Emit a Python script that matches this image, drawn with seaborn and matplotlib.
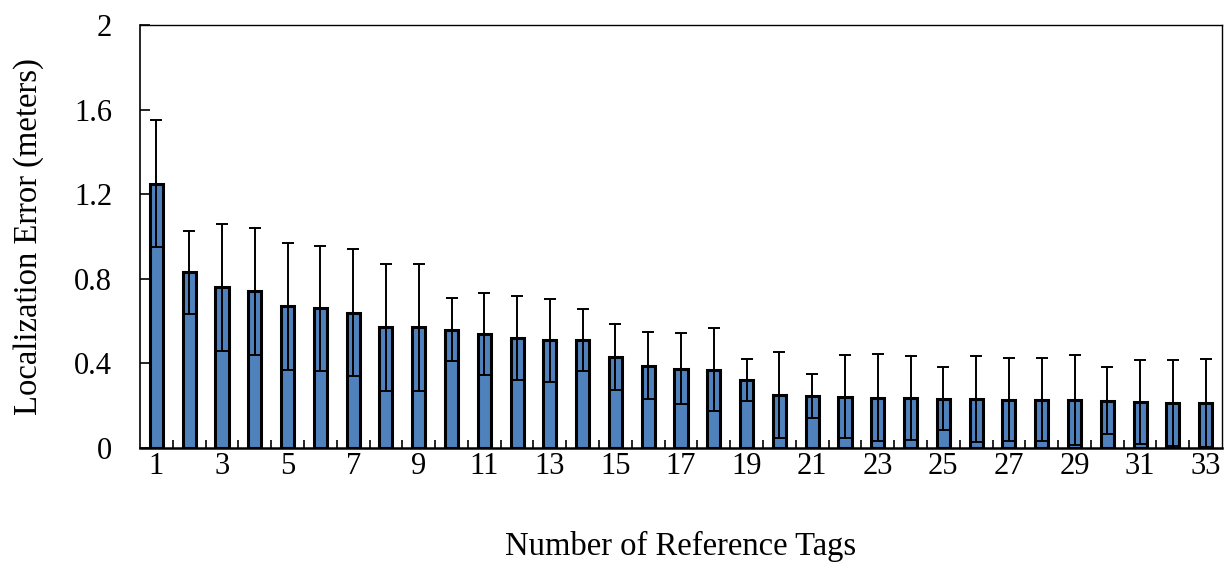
import matplotlib
matplotlib.use("Agg")
import matplotlib.pyplot as plt
import seaborn as sns
import pandas as pd
import numpy as np

tags = list(range(1, 34))
mean_error = [1.25, 0.83, 0.76, 0.74, 0.67, 0.66, 0.64, 0.57, 0.57, 0.56, 0.54,
              0.52, 0.51, 0.51, 0.43, 0.39, 0.375, 0.37, 0.32, 0.25, 0.245, 0.243,
              0.238, 0.236, 0.233, 0.232, 0.229, 0.229, 0.229, 0.224, 0.217, 0.214, 0.213]
err_half = [0.30, 0.195, 0.30, 0.30, 0.30, 0.295, 0.30, 0.30, 0.30, 0.15, 0.195,
            0.197, 0.196, 0.147, 0.157, 0.158, 0.167, 0.196, 0.099, 0.204, 0.103, 0.196,
            0.205, 0.197, 0.15, 0.204, 0.196, 0.197, 0.213, 0.157, 0.197, 0.204, 0.207]
y_ticks = [0, 0.4, 0.8, 1.2, 1.6, 2]
y_tick_labels = ["0", "0.4", "0.8", "1.2", "1.6", "2"]

sns.set_style("white")
plt.rcParams['font.family'] = ['Liberation Serif', 'DejaVu Serif']
plt.rcParams['text.color'] = 'black'
plt.rcParams['axes.labelcolor'] = 'black'
plt.rcParams['xtick.color'] = 'black'
plt.rcParams['ytick.color'] = 'black'

df = pd.DataFrame({"tags": [str(t) for t in tags], "err": mean_error})

fig = plt.figure(figsize=(12.25, 5.64), dpi=100)
ax = fig.add_axes([0.1143, 0.2057, 0.8833, 0.75])

sns.barplot(data=df, x="tags", y="err", color="#4F81BD", saturation=1,
            width=0.4, edgecolor="black", linewidth=2.2, ax=ax, zorder=2)
xpos = np.arange(len(tags))
ax.errorbar(xpos, mean_error, yerr=err_half, fmt="none", ecolor="black",
            elinewidth=1.4, capsize=4, capthick=1.4, zorder=3)

ax.set_xlim(-0.5, len(tags) - 0.5)
ax.set_ylim(0, 2)
ax.set_yticks(y_ticks)
ax.set_yticklabels(y_tick_labels)
ax.set_xticks(xpos[::2])
ax.set_xticklabels([str(t) for t in tags[::2]])
ax.set_xticks(np.arange(0.5, len(tags) - 1, 1.0), minor=True)
ax.tick_params(axis="x", which="major", length=0, pad=3, labelsize=22)
ax.tick_params(axis="x", which="minor", direction="in", length=6, width=1.2, bottom=True)
ax.tick_params(axis="y", direction="in", length=7, width=1.2, pad=20, left=True, labelsize=22)

for s in ax.spines.values():
    s.set_color("black")
    s.set_linewidth(1.0)
ax.spines["bottom"].set_linewidth(1.8)
ax.spines["left"].set_linewidth(1.2)

ax.set_xlabel("Number of Reference Tags", fontsize=23.5, labelpad=36)
ax.set_ylabel("Localization Error (meters)", fontsize=23.5, labelpad=22)

fig.savefig("out.png", dpi=100)
